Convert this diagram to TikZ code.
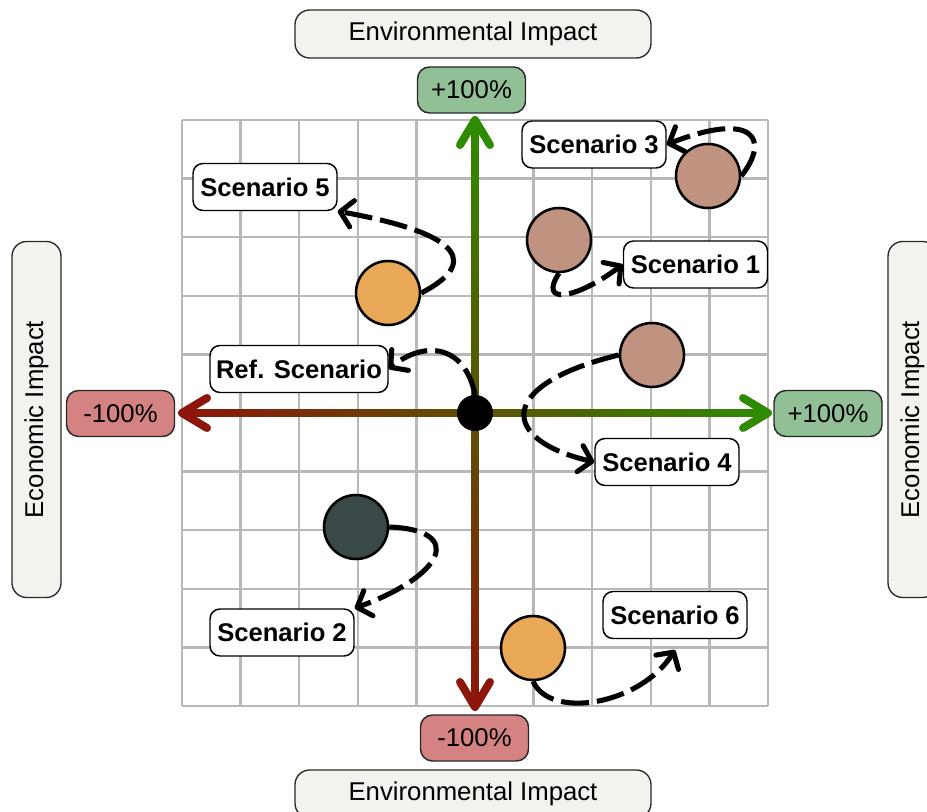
\documentclass[tikz,border=0pt]{standalone}
\usepackage{fontspec}
\setmainfont{Liberation Sans}
\usetikzlibrary{arrows.meta}
\definecolor{gridc}{RGB}{184,184,184}
\definecolor{axred}{RGB}{140,22,10}
\definecolor{axgreen}{RGB}{46,139,0}
\definecolor{boxgreen}{RGB}{145,192,150}
\definecolor{boxred}{RGB}{212,130,130}
\definecolor{boxgray}{RGB}{243,242,239}
\definecolor{cbrown}{RGB}{192,147,128}
\definecolor{corange}{RGB}{232,168,87}
\definecolor{cdark}{RGB}{59,72,73}
\definecolor{edgegray}{RGB}{40,40,40}
\begin{document}
\begin{tikzpicture}[x=0.75pt,y=-0.75pt,
  font=\fontsize{19.3}{22}\selectfont,
  gridline/.style={gridc,line width=1.8pt},
  axhead/.style={line width=6pt,line cap=round,line join=round},
  pct/.style={draw=edgegray,line width=1.1pt,rounded corners=9pt,minimum width=81pt,minimum height=34.5pt,inner sep=0pt},
  titlebox/.style={draw=edgegray,fill=boxgray,line width=1pt,rounded corners=11pt,minimum width=267pt,minimum height=36pt,inner sep=0pt},
  scen/.style={draw=black,fill=white,line width=1.1pt,rounded corners=7.5pt,minimum width=108pt,minimum height=35.25pt,inner sep=0pt,font=\fontsize{19.2}{22}\selectfont\bfseries},
  dot/.style={circle,draw=black,line width=1.9pt,minimum size=48pt,inner sep=0pt},
  link/.style={line width=3.8pt,dash pattern=on 21pt off 6pt,-{Straight Barb[length=9pt,width=20pt,round]}}
]
\useasboundingbox (0,0) rectangle (927,812);
\fill[white] (0,0) rectangle (927,812);
% grid
\foreach \i in {0,...,10} {
  \draw[gridline] ({182+58.6*\i},120) -- ({182+58.6*\i},706);
  \draw[gridline] (182,{120+58.6*\i}) -- (768,{120+58.6*\i});
}
% axes
\shade[left color=axred,right color=axgreen] (185,409.5) rectangle (765,416.5);
\shade[top color=axgreen,bottom color=axred] (471.5,123) rectangle (478.5,703);
\draw[axhead,axred] (207,398) -- (182,413) -- (207,428);
\draw[axhead,axgreen] (743,398) -- (768,413) -- (743,428);
\draw[axhead,axgreen] (460,145) -- (475,120) -- (490,145);
\draw[axhead,axred] (460,682) -- (475,707) -- (490,682);
\node[circle,fill=black,minimum size=27pt,inner sep=0pt] (o) at (475,413) {};
% percent labels
\node[pct,fill=boxgreen] (ptop) at (471.5,90) {+100\%};
\node[pct,fill=boxred] (pbot) at (474.5,738) {-100\%};
\node[pct,fill=boxred] (pleft) at (120.5,413.5) {-100\%};
\node[pct,fill=boxgreen] (pright) at (828,413.5) {+100\%};
% titles
\node[titlebox] (envtop) at (473,34) {Environmental Impact};
\node[titlebox] (envbot) at (473,794) {Environmental Impact};
\node[titlebox,rotate=90,minimum height=36.75pt] (ecoleft) at (36.5,419.5) {Economic Impact};
\node[titlebox,rotate=90,minimum height=36.75pt] (ecoright) at (912.5,419.5) {Economic Impact};
% scenario circles
\node[dot,fill=cbrown] (c3) at (708,176) {};
\node[dot,fill=cbrown] (c1) at (559,240) {};
\node[dot,fill=corange] (c5) at (388,293) {};
\node[dot,fill=cbrown] (c4) at (652,355) {};
\node[dot,fill=cdark] (c2) at (356,527) {};
\node[dot,fill=corange] (c6) at (533,648) {};
% scenario labels
\node[scen] (s3) at (594,144.5) {Scenario 3};
\node[scen] (s1) at (695.5,264.5) {Scenario 1};
\node[scen] (s5) at (265,187) {Scenario 5};
\node[scen,minimum width=133.5pt] (sref) at (299,369) {Ref. Scenario};
\node[scen] (s4) at (667,462) {Scenario 4};
\node[scen] (s2) at (282,632.5) {Scenario 2};
\node[scen] (s6) at (675,615) {Scenario 6};
\coordinate (t6) at (675,650);
% links
\draw[link] (c3.east) .. controls (770,140) and (755,110) .. (s3.east);
\draw[link] (c1.south) .. controls (538,305) and (575,300) .. (s1.west);
\draw[link] (c5.east) .. controls (475,265) and (470,235) .. (s5.south east);
\draw[link] (o.north) .. controls (465,345) and (425,340) .. (sref.east);
\draw[link] (c4.west) .. controls (495,385) and (500,440) .. (s4.west);
\draw[link] (c2.east) .. controls (465,530) and (445,575) .. (s2.north east);
\draw[link] (c6.south) .. controls (550,720) and (640,705) .. (t6);
\end{tikzpicture}
\end{document}
